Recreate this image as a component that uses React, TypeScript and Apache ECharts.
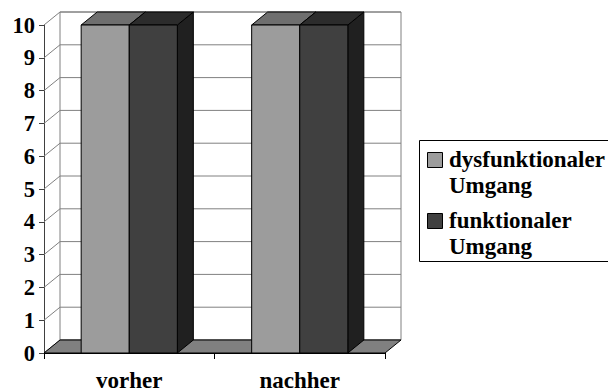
import React, { useEffect, useRef } from 'react';
import * as echarts from 'echarts';

const categories = ['vorher', 'nachher'];
const seriesNames = ['dysfunktionaler\nUmgang', 'funktionaler\nUmgang'];
const dysfunktionalerUmgang = [10, 10];
const funktionalerUmgang = [10, 10];
const yTickValues = [0, 1, 2, 3, 4, 5, 6, 7, 8, 9, 10];

const seriesValues = [dysfunktionalerUmgang, funktionalerUmgang];
const faceColors = [
  { front: '#9c9c9c', top: '#6f6f6f', side: '#5a5a5a' },
  { front: '#404040', top: '#2c2c2c', side: '#202020' },
];

const DX = 16;
const DY = 13;
const BAR_RATIO = 0.282;
const FONT = 'Liberation Serif';

export default function App() {
  const ref = useRef<HTMLDivElement>(null);
  useEffect(() => {
    if (!ref.current) return;
    const chart = echarts.init(ref.current, undefined, { renderer: 'svg' });

    const frameRender = (params: any, api: any) => {
      const cs = params.coordSys;
      const v = api.value(1);
      const y = api.coord([0, v])[1];
      const x0 = cs.x;
      const x1 = cs.x + cs.width;
      const children: any[] = [];
      const yBase = api.coord([0, 0])[1];
      const yTop = api.coord([0, 10])[1];
      if (params.dataIndex === 0) {
        children.push({
          type: 'rect',
          shape: { x: x0 + DX, y: yTop - DY, width: x1 - x0, height: yBase - yTop },
          style: { fill: '#ffffff', stroke: '#808080', lineWidth: 1 },
        });
      }
      children.push({
        type: 'line',
        shape: { x1: x0, y1: y, x2: x0 + DX, y2: y - DY },
        style: { stroke: '#808080', lineWidth: 1 },
      });
      children.push({
        type: 'line',
        shape: { x1: x0 + DX, y1: y - DY, x2: x1 + DX, y2: y - DY },
        style: { stroke: '#808080', lineWidth: 1 },
      });
      if (params.dataIndex === 0) {
        children.push({
          type: 'polygon',
          shape: { points: [[x0, yBase], [x1, yBase], [x1 + DX, yBase - DY], [x0 + DX, yBase - DY]] },
          style: { fill: '#808080', stroke: '#000000', lineWidth: 1 },
        });
      }
      return { type: 'group', children };
    };

    const makeBarRender = (k: number) => (params: any, api: any) => {
      const cat = api.value(0);
      const val = api.value(1);
      const topPt = api.coord([cat, val]);
      const basePt = api.coord([cat, 0]);
      const band = api.size([1, 0])[0];
      const w = band * BAR_RATIO;
      const left = topPt[0] - w + k * w;
      const right = left + w;
      const yT = topPt[1];
      const yB = basePt[1];
      const c = faceColors[k];
      const st = { stroke: '#000000', lineWidth: 1 };
      return {
        type: 'group',
        children: [
          {
            type: 'polygon',
            shape: { points: [[right, yT], [right + DX, yT - DY], [right + DX, yB - DY], [right, yB]] },
            style: { fill: c.side, ...st },
          },
          {
            type: 'polygon',
            shape: { points: [[left, yT], [right, yT], [right + DX, yT - DY], [left + DX, yT - DY]] },
            style: { fill: c.top, ...st },
          },
          {
            type: 'rect',
            shape: { x: left, y: yT, width: w, height: yB - yT },
            style: { fill: c.front, ...st },
          },
        ],
      };
    };

    const legendChildren: any[] = [
      {
        type: 'rect',
        shape: { x: 419.5, y: 140.5, width: 200, height: 121 },
        style: { fill: '#ffffff', stroke: '#000000', lineWidth: 1 },
      },
    ];
    seriesNames.forEach((name, k) => {
      const top = 152 + k * 61;
      legendChildren.push({
        type: 'rect',
        shape: { x: 427.5, y: top + 0.5, width: 15, height: 15 },
        style: { fill: faceColors[k].front, stroke: '#000000', lineWidth: 1 },
      });
      legendChildren.push({
        type: 'text',
        x: 449,
        y: top - 6,
        style: {
          text: name,
          fontFamily: FONT,
          fontWeight: 'bold',
          fontSize: 23,
          fill: '#000000',
          lineHeight: 26.5,
          verticalAlign: 'top',
          align: 'left',
        },
      });
    });

    chart.setOption({
      animation: false,
      backgroundColor: '#ffffff',
      textStyle: { fontFamily: FONT },
      grid: { left: 44, right: 223, top: 25, bottom: 38 },
      xAxis: {
        type: 'category',
        data: categories,
        boundaryGap: true,
        axisLine: { show: true, lineStyle: { color: '#000000' } },
        axisTick: { show: true, length: 6, lineStyle: { color: '#000000' } },
        axisLabel: { fontFamily: FONT, fontWeight: 'bold', fontSize: 23, color: '#000000', margin: 16 },
        splitLine: { show: false },
      },
      yAxis: {
        type: 'value',
        min: 0,
        max: 10,
        interval: 1,
        axisLine: { show: true, lineStyle: { color: '#404040' } },
        axisTick: { show: true, length: 5, lineStyle: { color: '#404040' } },
        axisLabel: {
          fontFamily: FONT,
          fontWeight: 'bold',
          fontSize: 22.5,
          color: '#000000',
          margin: 9,
          padding: [4, 0, 0, 0],
        },
        splitLine: { show: false },
      },
      series: [
        {
          type: 'custom',
          name: 'frame',
          renderItem: frameRender,
          data: yTickValues.map((v) => [0, v]),
          z: 1,
          silent: true,
        },
        ...seriesValues.map((vals, k) => ({
          type: 'custom',
          name: seriesNames[k],
          renderItem: makeBarRender(k),
          data: vals.map((v, i) => [i, v]),
          z: 2 + k,
        })),
      ],
      graphic: [{ type: 'group', children: legendChildren }],
    });
    return () => chart.dispose();
  }, []);
  return <div ref={ref} style={{ position: 'fixed', left: 0, top: 0, width: 608, height: 392 }} />;
}
